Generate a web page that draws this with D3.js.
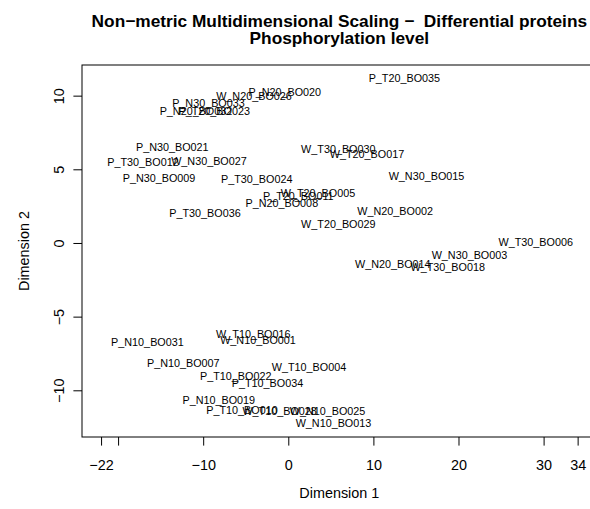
<!DOCTYPE html>
<html>
<head>
<meta charset="utf-8">
<script src="https://cdn.jsdelivr.net/npm/d3@7"></script>
<style>
  html, body { margin: 0; padding: 0; background: #fff; }
  svg { display: block; font-family: "Liberation Sans", Arial, Helvetica, sans-serif; }
  .title { white-space: pre; }
</style>
</head>
<body>
<svg id="chart" width="590" height="509"></svg>
<script>
// ---- data ----
const sampleLabels = [
  "P_T20_BO035","P_N20_BO020","W_N20_BO026","P_N30_BO033","P_N20_BO032","P_T20_BO023",
  "P_N30_BO021","P_T30_BO012","W_N30_BO027","P_N30_BO009","P_T30_BO024","P_T30_BO036",
  "P_N20_BO008","P_T20_BO011","W_T20_BO005","W_T30_BO030","W_T20_BO017","W_N30_BO015",
  "W_N20_BO002","W_T20_BO029","W_T30_BO006","W_N30_BO003","W_N20_BO014","W_T30_BO018",
  "P_N10_BO031","P_N10_BO007","P_T10_BO022","P_N10_BO019","P_T10_BO010","W_T10_BO016",
  "W_N10_BO001","W_T10_BO004","P_T10_BO034","W_T10_BO028","W_N10_BO025","W_N10_BO013"
];
const dimension1 = [
  13.64, -0.41, -4.03, -9.38, -10.85, -8.70,
  -13.63, -17.07, -9.32, -15.19, -3.71, -9.79,
  -0.76, 1.18, 3.49, 5.88, 9.25, 16.24,
  12.56, 5.88, 29.08, 21.29, 12.28, 18.74,
  -16.55, -12.34, -6.17, -8.17, -5.44, -4.11,
  -3.56, 2.43, -2.44, -1.02, 4.61, 5.31
];
const dimension2 = [
  11.18, 10.25, 9.98, 9.48, 8.98, 8.98,
  6.54, 5.48, 5.59, 4.39, 4.32, 2.02,
  2.70, 3.21, 3.41, 6.38, 6.02, 4.55,
  2.17, 1.29, 0.05, -0.81, -1.43, -1.61,
  -6.74, -8.17, -9.03, -10.66, -11.34, -6.20,
  -6.59, -8.44, -9.48, -11.38, -11.38, -12.20
];
const xTickValues = [-22, -20, -10, 0, 10, 20, 30, 34];
const xTickLabels = ["\u221222", "", "\u221210", "0", "10", "20", "30", "34"];
const yTickValues = [-10, -5, 0, 5, 10];
const yTickLabels = ["\u221210", "\u22125", "0", "5", "10"];
const titleLines = ["Non\u2212metric Multidimensional Scaling \u2212  Differential proteins", "Phosphorylation level"];
const xLabel = "Dimension 1";
const yLabel = "Dimension 2";

// ---- layout ----
const svg = d3.select("#chart");
const plotL = 82, plotR = 596.7, plotT = 65, plotB = 437;
const x = d3.scaleLinear().domain([-24.24, 36.24]).range([plotL, plotR]);
const y = d3.scaleLinear().domain([-13.17, 12.08]).range([plotB, plotT]);

// box
svg.append("rect")
  .attr("x", plotL).attr("y", plotT)
  .attr("width", plotR - plotL).attr("height", plotB - plotT)
  .attr("fill", "none").attr("stroke", "#000").attr("stroke-width", 1);

// x axis
const xAxis = d3.axisBottom(x)
  .tickValues(xTickValues)
  .tickFormat((d, i) => xTickLabels[i])
  .tickSize(8.6).tickSizeOuter(0);
const gx = svg.append("g").attr("transform", `translate(0,${plotB})`).call(xAxis);
gx.select(".domain").remove();
gx.selectAll(".tick line").attr("stroke", "#000");
gx.selectAll(".tick text")
  .attr("font-size", "14.4px").attr("fill", "#000")
  .attr("font-family", "Liberation Sans, Arial, sans-serif")
  .attr("y", 33).attr("dy", 0);

// y axis
const yAxis = d3.axisLeft(y)
  .tickValues(yTickValues)
  .tickFormat((d, i) => yTickLabels[i])
  .tickSize(8.6).tickSizeOuter(0);
const gy = svg.append("g").attr("transform", `translate(${plotL},0)`).call(yAxis);
gy.select(".domain").remove();
gy.selectAll(".tick line").attr("stroke", "#000");
gy.selectAll(".tick text")
  .attr("font-size", "14.4px").attr("fill", "#000")
  .attr("font-family", "Liberation Sans, Arial, sans-serif")
  .attr("x", 0).attr("y", 0).attr("dy", 0)
  .attr("text-anchor", "middle")
  .attr("transform", "translate(-18.5,0) rotate(-90)");

// axis titles
svg.append("text")
  .attr("x", (plotL + plotR) / 2).attr("y", 498)
  .attr("text-anchor", "middle").attr("font-size", "14.4px")
  .text(xLabel);
svg.append("text")
  .attr("transform", `translate(29,${(plotT + plotB) / 2}) rotate(-90)`)
  .attr("text-anchor", "middle").attr("font-size", "14.4px")
  .text(yLabel);

// main title
svg.selectAll("text.title")
  .data(titleLines)
  .join("text")
  .attr("class", "title")
  .attr("x", (plotL + plotR) / 2)
  .attr("y", (d, i) => 27 + i * 17.3)
  .attr("text-anchor", "middle")
  .attr("font-size", "17.3px")
  .attr("font-weight", "bold")
  .text(d => d);

// point labels
svg.append("g").selectAll("text")
  .data(sampleLabels)
  .join("text")
  .attr("x", (d, i) => x(dimension1[i]))
  .attr("y", (d, i) => y(dimension2[i]))
  .attr("dy", "0.36em")
  .attr("text-anchor", "middle")
  .attr("font-size", "10.8px")
  .attr("fill", "#000")
  .text(d => d);
</script>
</body>
</html>
